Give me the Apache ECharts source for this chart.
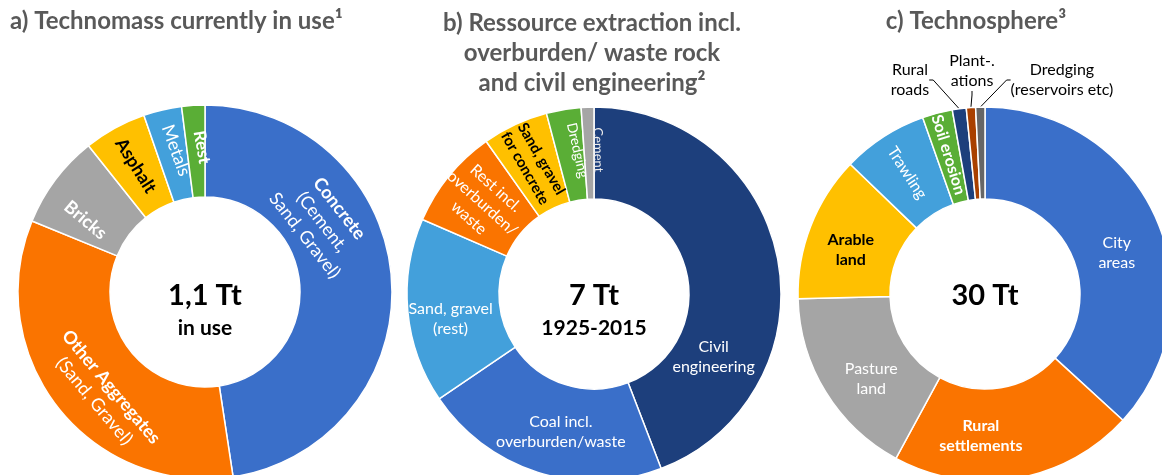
<!DOCTYPE html>
<html>
<head>
<meta charset="utf-8">
<script src="https://cdn.jsdelivr.net/npm/echarts@6/dist/echarts.min.js"></script>
<style>
html, body { margin: 0; background: #fff; }
#chart { width: 1162px; height: 475px; }
</style>
</head>
<body>
<div id="chart"></div>
<script>
// a) technomass currently in use, share in %
const namesA = ['Concrete', 'Other Aggregates', 'Bricks', 'Asphalt', 'Metals', 'Rest'];
const valuesA = [47.6, 33.6, 8.1, 5.4, 3.3, 2.0];
const labelsA = ['{b|Concrete}\n(Cement,\nSand, Gravel)', '{b|Other Aggregates}\n(Sand, Gravel)', 'Bricks', 'Asphalt', 'Metals', 'Rest'];

// b) ressource extraction 1925-2015, share in %
const namesB = ['Civil engineering', 'Coal incl. overburden/waste', 'Sand, gravel (rest)', 'Rest incl. overburden/waste', 'Sand, gravel for concrete', 'Dredging', 'Cement'];
const valuesB = [44.2, 21.4, 16.0, 8.7, 5.7, 3.0, 1.1];
const labelsB = ['Civil\nengineering', 'Coal incl.\noverburden/waste', 'Sand, gravel\n(rest)', 'Rest incl.\noverburden/\nwaste', 'Sand, gravel\nfor concrete', 'Dredging', 'Cement'];

// c) technosphere, share in %
const namesC = ['City areas', 'Rural settlements', 'Pasture land', 'Arable land', 'Trawling', 'Soil erosion', 'Rural roads', 'Plantations', 'Dredging (reservoirs etc)'];
const valuesC = [36.8, 21.1, 16.7, 12.6, 7.4, 2.6, 1.2, 0.8, 0.8];
const labelsC = ['City\nareas', 'Rural\nsettlements', 'Pasture\nland', 'Arable\nland', 'Trawling', 'Soil erosion', 'Rural\nroads', 'Plant-.\nations', 'Dredging\n(reservoirs etc)'];

const titles = ['a) Technomass currently in use¹', 'b) Ressource extraction incl.\noverburden/ waste rock\nand civil engineering²', 'c) Technosphere³'];
const centerTexts = [['1,1 Tt', 'in use'], ['7 Tt', '1925-2015'], ['30 Tt', '']];

const BLUE = '#3a6fc9', ORANGE = '#fa7400', GRAY = '#a5a5a5', YELLOW = '#ffc000',
      LBLUE = '#43a0db', GREEN = '#5aae36', NAVY = '#1d3f7c';
const colorsA = [BLUE, ORANGE, GRAY, YELLOW, LBLUE, GREEN];
const colorsB = [NAVY, BLUE, LBLUE, ORANGE, YELLOW, GREEN, GRAY];
const colorsC = [BLUE, ORANGE, GRAY, YELLOW, LBLUE, GREEN, NAVY, '#a94000', '#666666'];

const FONT = 'Lato, "Open Sans", sans-serif';

// label look per slice: rotate, colour, weight, size, nudges (x/y = fixed spot)
const lookA = [
  { rotate: -52, size: 18, x: 322, y: 222 },
  { rotate: -50, size: 18, dx: 17 },
  { rotate: -40, size: 18, bold: true, dx: 6, dy: 14 },
  { rotate: -58, size: 18, bold: true, color: '#000' },
  { rotate: -70, size: 18, dy: -4 },
  { rotate: -80, size: 17, bold: true, dy: -6 }
];
const lookB = [
  { size: 16, dx: -22, dy: 89 },
  { size: 16, dx: 10 },
  { size: 16, dy: 12 },
  { rotate: -42, size: 16 },
  { rotate: -60, size: 15, bold: true, color: '#000' },
  { rotate: -77, size: 14, dy: -7 },
  { rotate: -89, size: 13, color: '#eeeeee', dy: -9 }
];
const lookC = [
  { size: 16, dy: 17 },
  { size: 16, bold: true, dx: -28 },
  { size: 16, dx: 9, dy: 10 },
  { size: 16, bold: true, color: '#000', dy: 8 },
  { rotate: -57, size: 16 },
  { rotate: -73, size: 16, bold: true },
  { outside: true, size: 16, x: 910, y: 80 },
  { outside: true, size: 16, x: 972, y: 71 },
  { outside: true, size: 16, x: 1062, y: 80 }
];

function buildPie(names, values, colors, labels, look, center) {
  return {
    type: 'pie',
    center: center,
    radius: [95, 187],
    startAngle: 90,
    clockwise: true,
    avoidLabelOverlap: false,
    minShowLabelAngle: 0,
    silent: true,
    itemStyle: { borderColor: '#fff', borderWidth: 1.5 },
    labelLine: { show: false },
    data: names.map(function (n, i) {
      const lk = look[i];
      const fs = lk.size || 15;
      return {
        name: n,
        value: values[i],
        itemStyle: { color: colors[i] },
        label: {
          show: true,
          position: lk.outside ? 'outside' : 'inside',
          rotate: lk.rotate || 0,
          color: lk.outside ? '#000' : (lk.color || '#fff'),
          fontSize: fs,
          fontWeight: lk.bold ? 'bold' : 'normal',
          lineHeight: fs + 4,
          fontFamily: FONT,
          formatter: labels[i],
          rich: {
            b: { fontWeight: 'bold', fontSize: fs, fontFamily: FONT, color: '#fff', lineHeight: fs + 4 }
          }
        },
        labelLine: lk.outside
          ? { show: true, length: 6, length2: 4, lineStyle: { color: '#000', width: 1 } }
          : { show: false }
      };
    }),
    labelLayout: function (p) {
      const lk = look[p.dataIndex];
      if (lk.x != null) {
        return { x: lk.x, y: lk.y, align: 'center', verticalAlign: 'middle' };
      }
      return { dx: lk.dx || 0, dy: lk.dy || 0 };
    }
  };
}

const centers = [[205, 292], [594, 294], [985, 294]];

const titleStyle = { fontSize: 24, fontWeight: 'bold', fontFamily: FONT, fill: '#595959', verticalAlign: 'middle' };
const graphics = [
  { type: 'text', x: 10, y: 21, style: Object.assign({ text: titles[0], align: 'left' }, titleStyle) },
  { type: 'text', x: 592, y: 53, style: Object.assign({ text: titles[1], align: 'center', lineHeight: 30 }, titleStyle) },
  { type: 'text', x: 976, y: 21, style: Object.assign({ text: titles[2], align: 'center' }, titleStyle) }
];
centerTexts.forEach(function (t, i) {
  graphics.push({ type: 'text', x: centers[i][0], y: 296, style: { text: t[0], align: 'center', verticalAlign: 'middle', fontSize: 29, fontWeight: 'bold', fontFamily: FONT, fill: '#000' } });
  if (t[1]) {
    graphics.push({ type: 'text', x: centers[i][0], y: 328, style: { text: t[1], align: 'center', verticalAlign: 'middle', fontSize: 21, fontWeight: 'bold', fontFamily: FONT, fill: '#000' } });
  }
});

const chart = echarts.init(document.getElementById('chart'));
chart.setOption({
  animation: false,
  backgroundColor: '#fff',
  graphic: graphics,
  series: [
    buildPie(namesA, valuesA, colorsA, labelsA, lookA, centers[0]),
    buildPie(namesB, valuesB, colorsB, labelsB, lookB, centers[1]),
    buildPie(namesC, valuesC, colorsC, labelsC, lookC, centers[2])
  ]
});
</script>
</body>
</html>
